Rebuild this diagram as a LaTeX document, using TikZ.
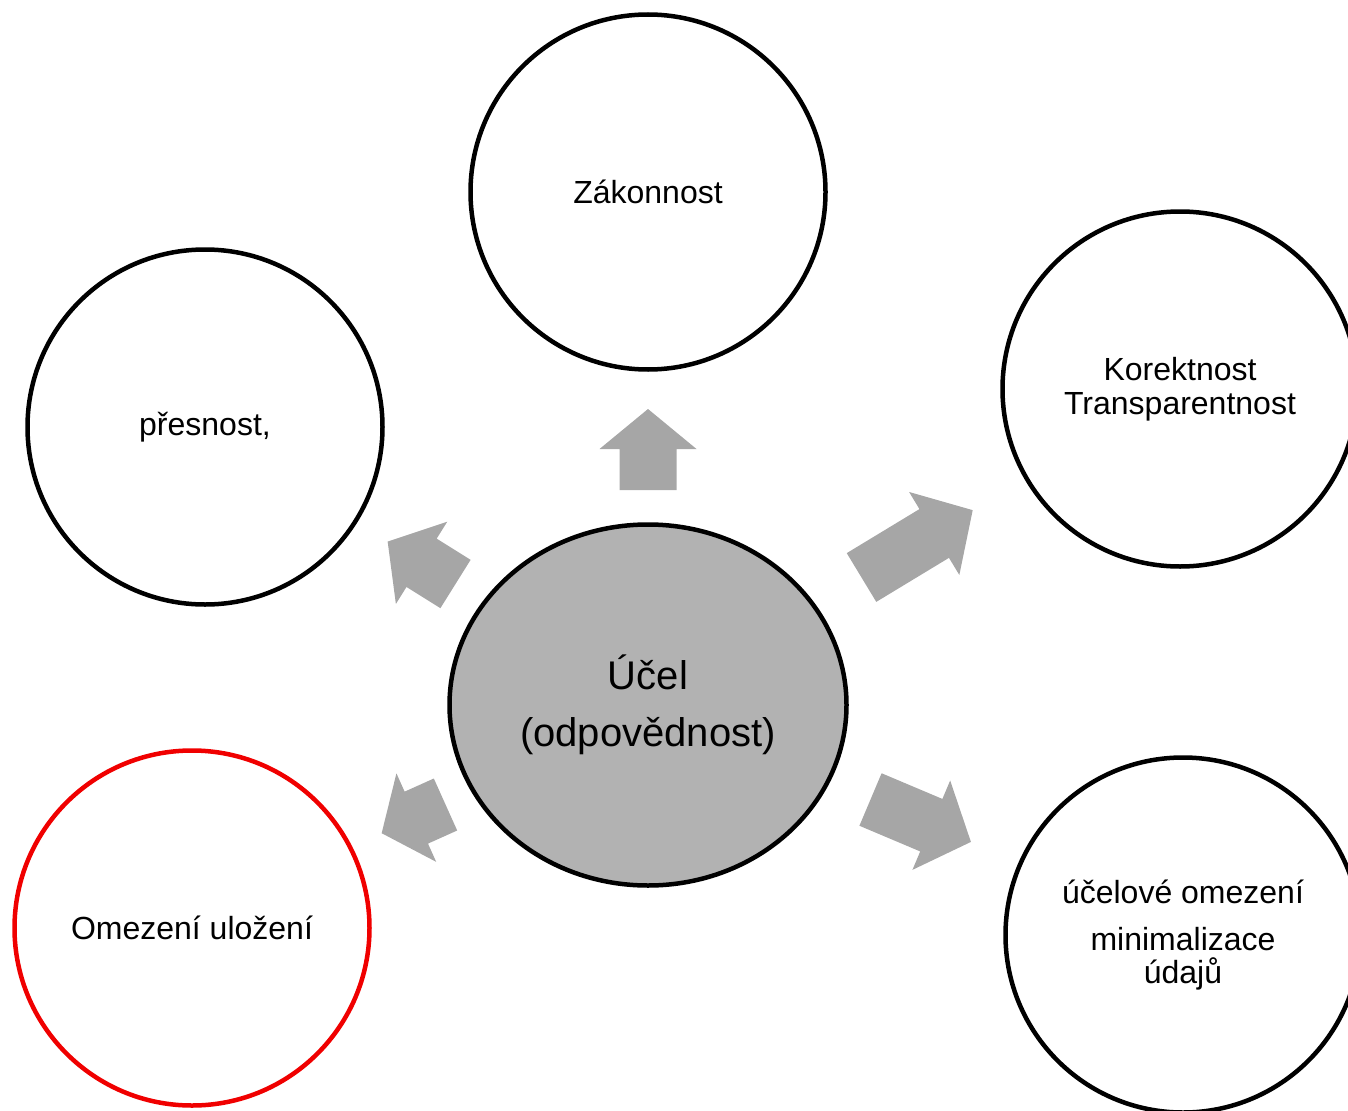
\documentclass[tikz,border=0pt]{standalone}
\usepackage{fontspec}
\setmainfont{Liberation Sans}
\definecolor{ellgray}{RGB}{178,178,178}
\definecolor{arrgray}{RGB}{166,166,166}
\definecolor{redline}{RGB}{240,0,0}
\tikzset{
  ring/.style={circle, draw=black, line width=4.5pt, fill=white, minimum size=355pt, inner sep=0pt, align=center, font=\fontsize{32}{34}\selectfont},
  redring/.style={ring, draw=redline},
  hub/.style={ellipse, draw=black, line width=4.5pt, fill=ellgray, minimum width=397pt, minimum height=361pt, inner sep=0pt, align=center, font=\fontsize{40}{57}\selectfont},
  blockarrow/.style={fill=arrgray},
}
\usetikzlibrary{shapes.geometric}
% base x, base y, angle, length, head length
\newcommand{\garrow}[5]{%
  \begin{scope}[shift={(#1,#2)}, rotate=#3]
    \fill[blockarrow] (0pt,-28.5pt) -- (#4pt-#5pt,-28.5pt) -- (#4pt-#5pt,-48.5pt) -- (#4pt,0pt) -- (#4pt-#5pt,48.5pt) -- (#4pt-#5pt,28.5pt) -- (0pt,28.5pt) -- cycle;
  \end{scope}}
\begin{document}
\begin{tikzpicture}[x=1pt,y=-1pt]
\useasboundingbox (0,0) rectangle (1348,1110);
\node[hub] (ucel) at (648,705) {Účel\\(odpovědnost)};
\node[ring] (zak) at (648,192) {Zákonnost};
\node[ring] (pres) at (205,427) {přesnost,};
\node[ring] (kor) at (1180,389) {Korektnost\\Transparentnost};
\node[ring, font=\fontsize{32}{33}\selectfont] (uce) at (1183,935) {účelové omezení\\[14pt]minimalizace\\údajů};
\node[redring] (ome) at (192,928) {Omezení uložení};
\garrow{648}{490}{90}{81}{40}
\garrow{455.5}{584}{148}{80}{40}
\garrow{861.5}{577.5}{31.2}{130}{45}
\garrow{870.5}{799.5}{-22.9}{109}{43}
\garrow{445.5}{804.5}{204.2}{70}{38}
\end{tikzpicture}
\end{document}
